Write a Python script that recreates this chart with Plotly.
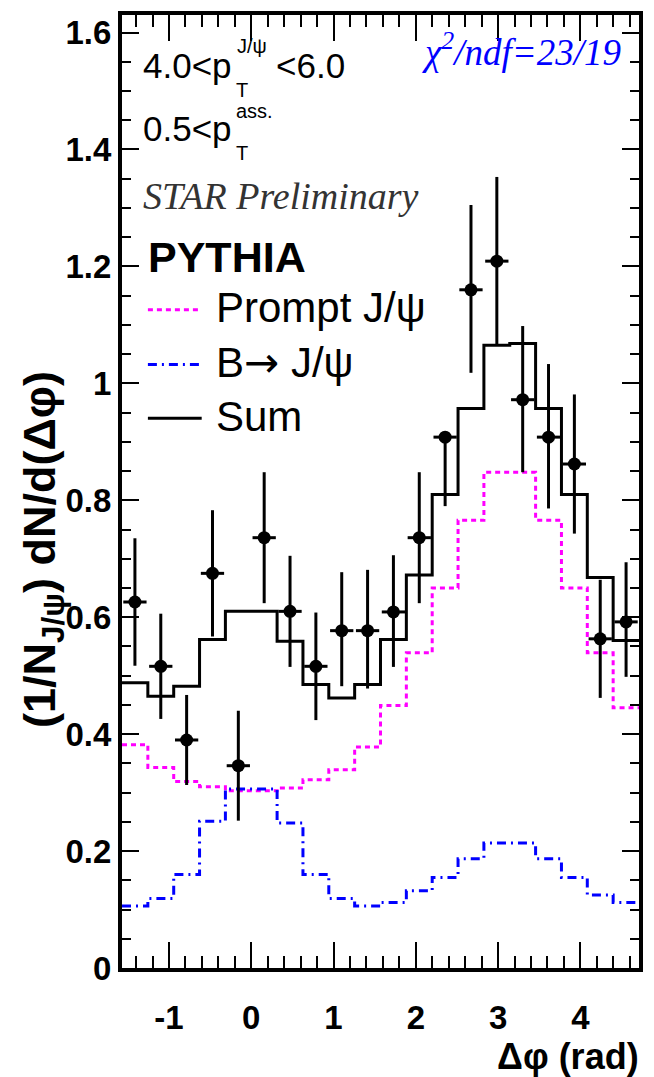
import numpy as np
import plotly.graph_objects as go

# ---------------- data ----------------
n_bins = 20
bin_edges = np.linspace(-np.pi / 2, 3 * np.pi / 2, n_bins + 1)
bin_centers = 0.5 * (bin_edges[:-1] + bin_edges[1:])
half_width = 0.5 * (bin_edges[1:] - bin_edges[:-1])

data_values = [0.626, 0.516, 0.390, 0.675, 0.346, 0.736, 0.610, 0.516, 0.577, 0.577,
               0.609, 0.736, 0.908, 1.160, 1.209, 0.972, 0.908, 0.862, 0.563, 0.592]
data_err_up = [0.109, 0.090, 0.077, 0.108, 0.094, 0.112, 0.095, 0.092, 0.100, 0.104,
               0.097, 0.112, 0.000, 0.145, 0.144, 0.126, 0.125, 0.119, 0.101, 0.102]
data_err_dn = [0.109, 0.090, 0.077, 0.108, 0.094, 0.112, 0.095, 0.092, 0.095, 0.099,
               0.094, 0.112, 0.118, 0.142, 0.144, 0.124, 0.122, 0.119, 0.101, 0.094]

prompt_values = [0.382, 0.343, 0.319, 0.310, 0.303, 0.303, 0.308, 0.322, 0.339, 0.378,
                 0.449, 0.539, 0.650, 0.766, 0.848, 0.848, 0.766, 0.650, 0.539, 0.445]
b_values = [0.106, 0.119, 0.160, 0.251, 0.306, 0.306, 0.248, 0.160, 0.119, 0.106,
            0.112, 0.132, 0.155, 0.187, 0.214, 0.214, 0.187, 0.155, 0.125, 0.112]
sum_values = [0.488, 0.465, 0.482, 0.562, 0.610, 0.610, 0.559, 0.485, 0.462, 0.485,
              0.562, 0.672, 0.810, 0.957, 1.065, 1.068, 0.957, 0.810, 0.668, 0.560]

x_tickvals = [-1, 0, 1, 2, 3, 4]
x_ticktext = ["-1", "0", "1", "2", "3", "4"]
y_tickvals = [0, 0.2, 0.4, 0.6, 0.8, 1.0, 1.2, 1.4, 1.6]
y_ticktext = ["0", "0.2", "0.4", "0.6", "0.8", "1", "1.2", "1.4", "1.6"]

legend_labels = ["Prompt J/\u03c8",
                 "B<span style=\"font-family:'DejaVu Sans'\">\u2192</span> J/\u03c8",
                 "Sum"]

# ---------------- figure ----------------
SANS = "Liberation Sans, Arial, sans-serif"
SERIF = "Liberation Serif, Times New Roman, serif"
MAGENTA = "#ff00ff"
BLUE = "#0000ff"
prompt_dash = "5px,4px"
b_dash = "9px,5px,2px,5px"

fig = go.Figure()


def step_trace(values, color, dash, width):
    return go.Scatter(x=list(bin_edges), y=list(values) + [values[-1]],
                      mode="lines", line=dict(shape="hv", color=color, dash=dash, width=width),
                      hoverinfo="skip", showlegend=False)


fig.add_trace(step_trace(prompt_values, MAGENTA, prompt_dash, 3))
fig.add_trace(step_trace(b_values, BLUE, b_dash, 3))
fig.add_trace(step_trace(sum_values, "black", "solid", 3))

fig.add_trace(go.Scatter(
    x=bin_centers, y=data_values, mode="markers",
    marker=dict(symbol="circle", size=13, color="black"),
    error_y=dict(type="data", symmetric=False, array=data_err_up, arrayminus=data_err_dn,
                 color="black", thickness=3, width=0),
    error_x=dict(type="data", array=list(half_width * 0.9), color="black", thickness=3, width=0),
    showlegend=False, cliponaxis=True))

# pixel helpers for plot-area placement of text
L, R, T, B = 122, 641, 11, 968


def px(xp):
    return (xp - L) / (R - L)


def py(yp):
    return (B - yp) / (B - T)


ann = []


def text(s, x, y, size, family=SANS, color="black", xanchor="left", yanchor="middle",
         weight="normal", style="normal", angle=0):
    ann.append(dict(text=s, x=px(x), y=py(y), xref="paper", yref="paper",
                    xanchor=xanchor, yanchor=yanchor, showarrow=False, textangle=angle,
                    font=dict(family=family, size=size, color=color, weight=weight, style=style)))


# kinematic labels
text("4.0&lt;p", 141, 62, 35)
text("T", 234, 86, 20)
text("J/\u03c8", 235, 42, 20)
text("&lt;6.0", 275, 62, 35)
text("0.5&lt;p", 141, 125, 35)
text("T", 234, 150, 20)
text("ass.", 234, 107, 20)

text("STAR Preliminary", 141, 193, 38, family=SERIF, color="#333333", style="italic")
text("PYTHIA", 146, 254, 43, weight="bold")
text("\u03c7<sup>2</sup>/ndf=23/19", 625, 46, 37, family=SERIF, color=BLUE, style="italic",
     xanchor="right")

# legend (manual)
legend_y = [307, 362, 416]
legend_styles = [(MAGENTA, prompt_dash), (BLUE, b_dash), ("black", "solid")]
shapes = []
for lab, yy, (col, dsh) in zip(legend_labels, legend_y, legend_styles):
    shapes.append(dict(type="line", xref="paper", yref="paper", x0=px(148), x1=px(202),
                       y0=py(yy), y1=py(yy), line=dict(color=col, dash=dsh, width=3)))
    text(lab, 214, yy - 2, 42)

# axis titles
text("(1/N<sub>J/\u03c8</sub>) dN/d(\u0394\u03c6)", 42, 548, 45, weight="bold", angle=-90,
     xanchor="center", yanchor="middle")
text("\u0394\u03c6 (rad)", 643, 1057, 36, weight="bold", xanchor="right")

fig.update_layout(
    width=654, height=1077,
    margin=dict(l=L, r=654 - R, t=T, b=1077 - B),
    paper_bgcolor="white", plot_bgcolor="white",
    annotations=ann, shapes=shapes, showlegend=False,
    xaxis=dict(range=[-np.pi / 2, 3 * np.pi / 2], showgrid=False, zeroline=False,
               showline=True, linewidth=4, linecolor="black", mirror="allticks",
               ticks="inside", ticklen=26, tickwidth=2, tickcolor="black",
               tickvals=x_tickvals, ticktext=x_ticktext, ticklabelstandoff=17,
               tickfont=dict(family=SANS, size=33, color="black", weight="bold"),
               minor=dict(dtick=0.2, tick0=0, ticks="inside", ticklen=12, tickwidth=2,
                          tickcolor="black", showgrid=False)),
    yaxis=dict(range=[0, 1.63], showgrid=False, zeroline=False,
               showline=True, linewidth=4, linecolor="black", mirror="allticks",
               ticks="inside", ticklen=17, tickwidth=2, tickcolor="black",
               tickvals=y_tickvals, ticktext=y_ticktext, ticklabelstandoff=0,
               tickfont=dict(family=SANS, size=33, color="black", weight="bold"),
               minor=dict(dtick=0.05, tick0=0, ticks="inside", ticklen=9, tickwidth=2,
                          tickcolor="black", showgrid=False)),
)

fig.write_html("out.html")
